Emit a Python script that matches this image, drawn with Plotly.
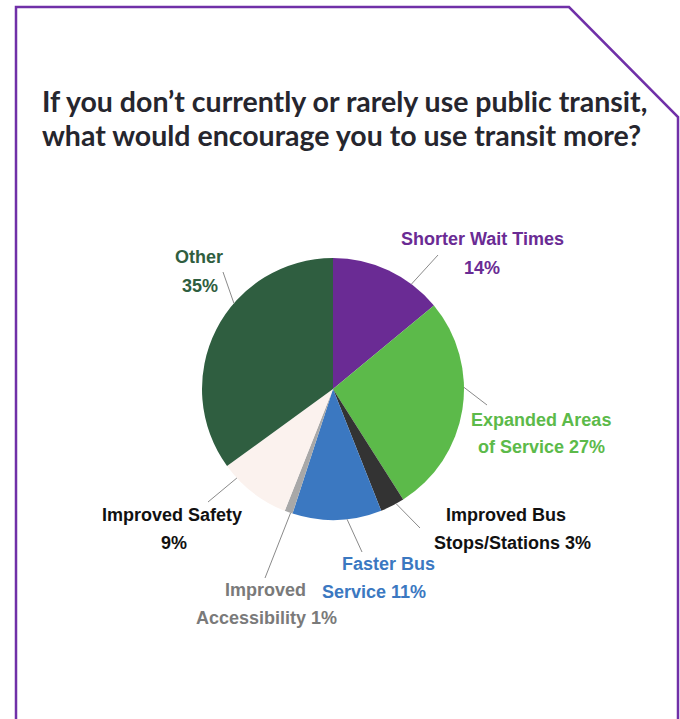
import math
import plotly.graph_objects as go

# ---- data ----
categories = ["Shorter Wait Times", "Expanded Areas of Service", "Improved Bus Stops/Stations",
              "Faster Bus Service", "Improved Accessibility", "Improved Safety", "Other"]
values = [14, 27, 3, 11, 1, 9, 35]
colors = ["#6a2b94", "#5cba4a", "#333333", "#3b78c1", "#a8a8a8", "#fbf2ee", "#2f5e40"]
label_lines = [["Shorter Wait Times", "14%"],
               ["Expanded Areas", "of Service 27%"],
               ["Improved Bus", "Stops/Stations 3%"],
               ["Faster Bus", "Service 11%"],
               ["Improved", "Accessibility 1%"],
               ["Improved Safety", "9%"],
               ["Other", "35%"]]
label_colors = ["#6a2b94", "#5cba4a", "#111111", "#3b78c1", "#7a7a7a", "#111111", "#2f5e40"]

W, H = 680, 719
CX, CY, R = 333, 389, 131

# label layout (pixel centers of each text line)
label_pos = [[(482, 239), (482, 268)],
             [(541, 420), (541, 447)],
             [(506, 515), (512, 543)],
             [(388, 564), (374, 592)],
             [(265, 590), (266, 618)],
             [(172, 515), (174, 543)],
             [(199, 257), (200, 286)]]
# leader lines: fraction within slice where line touches edge, and outer end (px)
leader_frac = [0.73, 0.40, 0.33, 0.39, 0.25, 0.79, 0.61]
leader_outer = [(438, 255), (487, 405), (420, 528), (362, 552), (265, 578), (208, 502), (223, 272)]

fig = go.Figure(go.Pie(
    labels=categories, values=values, sort=False, direction="clockwise", rotation=0,
    marker=dict(colors=colors, line=dict(width=0)), textinfo="none", hoverinfo="label+percent",
    domain=dict(x=[(CX - R) / W, (CX + R) / W], y=[1 - (CY + R) / H, 1 - (CY - R) / H]),
    showlegend=False,
))

def px(x, y):
    return x / W, 1 - y / H

shapes = []
total = sum(values)
cum = 0
for i, v in enumerate(values):
    a0 = cum / total * 360
    a1 = (cum + v) / total * 360
    cum += v
    ang = math.radians(a0 + leader_frac[i] * (a1 - a0))
    ex = CX + R * math.sin(ang)
    ey = CY - R * math.cos(ang)
    x0, y0 = px(ex, ey)
    x1, y1 = px(*leader_outer[i])
    shapes.append(dict(type="line", xref="paper", yref="paper", x0=x0, y0=y0, x1=x1, y1=y1,
                       line=dict(color="#8a8a8a", width=1)))

# frame
frame = [(16, 760), (16, 7), (569, 7), (678, 117), (678, 760)]
path = "M " + " L ".join(f"{px(x, y)[0]},{px(x, y)[1]}" for x, y in frame)
shapes.append(dict(type="path", xref="paper", yref="paper", path=path,
                   line=dict(color="#7030a8", width=2.5)))

annotations = []
for i, lines in enumerate(label_lines):
    for t, (x, y) in zip(lines, label_pos[i]):
        ax, ay = px(x, y)
        annotations.append(dict(x=ax, y=ay, xref="paper", yref="paper", text=t, showarrow=False,
                                xanchor="center", yanchor="middle",
                                font=dict(family="Liberation Sans, Arial", size=18,
                                          color=label_colors[i], weight="bold")))

title_lines = ["If you don’t currently or rarely use public transit,",
               "what would encourage you to use transit more?"]
for t, y in zip(title_lines, [101, 135]):
    ax, ay = px(40, y)
    annotations.append(dict(x=ax, y=ay, xref="paper", yref="paper", text=t, showarrow=False,
                            xanchor="left", yanchor="middle",
                            font=dict(family="Lato", size=28.5, color="#26262e", weight="bold")))

fig.update_layout(width=W, height=H, margin=dict(l=0, r=0, t=0, b=0),
                  paper_bgcolor="white", plot_bgcolor="white",
                  shapes=shapes, annotations=annotations)

fig.write_html("out.html")
